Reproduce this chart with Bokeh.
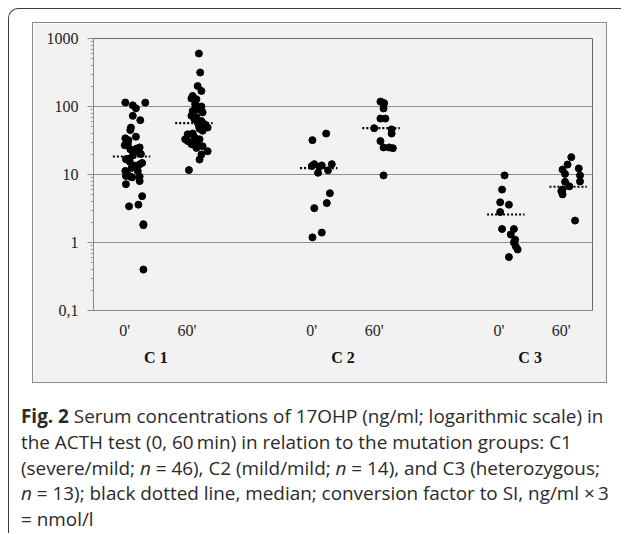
from bokeh.plotting import figure
from bokeh.models import Range1d, LinearAxis, FixedTicker, Div, ColumnDataSource
from bokeh.layouts import column
from bokeh.embed import file_html
from bokeh.resources import INLINE

# ---- data -------------------------------------------------------------
# Excel-like category slots (blank slots separate the mutation groups)
slots = ["0'", "60'", "", "0'", "60'", "", "0'", "60'"]
group_names = ["C 1", "C 2", "C 3"]
y_tick_values = [0.1, 1, 10, 100, 1000]
y_tick_labels = ["0,1", "1", "10", "100", "1000"]

# 17OHP values (ng/ml) and horizontal jitter (in category units)
c1_0 = [114.5, 114, 104, 94, 73, 63, 49, 45, 36, 34, 32, 30, 28, 27, 25, 24, 23.5,
        21.9, 20, 19, 17.1, 16.8, 15.5, 14.8, 14.1, 13.5, 12.5, 11.3, 11.3, 10.2,
        9.5, 9.3, 9.2, 9.1, 8.0, 7.2, 4.8, 3.6, 3.4, 1.86, 1.8, 0.40]
c1_0_jit = [0.01, 0.33, 0.13, 0.18, 0.13, 0.25, 0.10, 0.09, 0.18, 0.01, 0.06, 0.03, 0.05, 0.0, 0.24, 0.19, 0.09,
            0.17, 0.26, 0.13, 0.07, 0.02, 0.08, 0.28, 0.24, 0.16, 0.11, 0.01, 0.21, 0.04,
            0.02, 0.24, 0.10, 0.12, 0.24, 0.02, 0.28, 0.22, 0.07, 0.30, 0.30, 0.30]

c1_60 = [601, 316, 200, 169, 143, 131, 128, 108, 100, 91, 86, 82, 73, 70, 65, 61, 58, 55,
         52, 49, 47, 44, 40, 39, 35, 33, 33, 31, 28, 28, 27.7, 26, 24.6, 22, 19.7, 16.6, 11.6]
c1_60_jit = [0.19, 0.21, 0.17, 0.23, 0.09, 0.07, 0.15, 0.13, 0.23, 0.17, 0.09, 0.25, 0.07, 0.15, 0.12, 0.23, 0.17, 0.28,
             0.19, 0.33, 0.20, 0.25, 0.09, 0.01, 0.12, -0.03, 0.20, 0.01, 0.07, 0.17, 0.09, 0.25, 0.15, 0.33, 0.23, 0.20, 0.03]

c2_0 = [40, 32, 14.2, 14.2, 13.6, 13.3, 13.0, 11.5, 10.6, 5.3, 3.8, 3.2, 1.4, 1.19]
c2_0_jit = [0.23, 0.01, 0.04, 0.32, 0.16, 0.0, 0.12, 0.26, 0.10, 0.29, 0.24, 0.04, 0.16, 0.01]

c2_60 = [118, 115, 112, 93.6, 66.5, 66.5, 48, 46, 40, 31, 25, 25, 24.4, 9.7]
c2_60_jit = [0.10, 0.13, 0.16, 0.15, 0.10, 0.18, 0.0, 0.28, 0.28, 0.10, 0.15, 0.24, 0.30, 0.15]

c3_0 = [9.7, 6.0, 3.9, 3.6, 2.8, 1.58, 1.58, 1.31, 1.1, 1.0, 0.88, 0.79, 0.61]
c3_0_jit = [0.09, 0.05, 0.02, 0.16, 0.02, 0.05, 0.24, 0.19, 0.26, 0.24, 0.27, 0.30, 0.16]

c3_60 = [18, 14, 12.3, 11.8, 10.2, 9.7, 7.9, 7.8, 6.7, 6.0, 5.7, 5.1, 2.1]
c3_60_jit = [0.16, 0.10, 0.28, 0.02, 0.06, 0.30, 0.30, 0.06, 0.13, 0.02, 0.0, 0.02, 0.22]

medians = [18.4, 57, 12.4, 48, 2.58, 6.6]

caption_html = (
    "<b>Fig. 2</b> Serum concentrations of 17OHP (ng/ml; logarithmic scale) in<br>"
    "the ACTH test (0, 60&#8201;min) in relation to the mutation groups: C1<br>"
    "(severe/mild; <i>n</i> = 46), C2 (mild/mild; <i>n</i> = 14), and C3 (heterozygous;<br>"
    "<i>n</i> = 13); black dotted line, median; conversion factor to SI, ng/ml &#215;&#8201;3<br>"
    "= nmol/l"
)

# ---- derived positions -----------------------------------------------
slot_pos = [i + 0.5 for i, s in enumerate(slots) if s]
slot_lbl = [s for s in slots if s]
group_pos = [(slot_pos[2 * k] + slot_pos[2 * k + 1]) / 2 for k in range(len(group_names))]

series = [(c1_0, c1_0_jit), (c1_60, c1_60_jit), (c2_0, c2_0_jit),
          (c2_60, c2_60_jit), (c3_0, c3_0_jit), (c3_60, c3_60_jit)]
xs, ys = [], []
for pos, (vals, jit) in zip(slot_pos, series):
    xs += [pos + j for j in jit]
    ys += list(vals)
pts = ColumnDataSource(dict(x=xs, y=ys))
med = ColumnDataSource(dict(x0=[p - 0.19 for p in slot_pos],
                            x1=[p + 0.41 for p in slot_pos], y=medians))

# ---- figure ------------------------------------------------------------
SERIF = "Liberation Serif"
p = figure(width=573, height=359, x_range=Range1d(0, 8), y_range=Range1d(0.1, 1000),
           y_axis_type="log", output_backend="svg", toolbar_location=None,
           min_border_left=60, min_border_right=14, min_border_top=15, min_border_bottom=72,
           background_fill_color="#f2f2f2", border_fill_color="#f2f2f2",
           outline_line_color="#6a6a6a", margin=(14, 0, 0, 24))
p.styles = {"outline": "1px solid #8a8a8a"}

yt = FixedTicker(ticks=y_tick_values,
                 minor_ticks=[m * 10.0 ** e for e in range(-1, 3) for m in range(2, 10)])
p.yaxis.ticker = yt
p.ygrid.ticker = yt
p.yaxis.major_label_overrides = {v: l for v, l in zip(y_tick_values, y_tick_labels)}
p.yaxis.axis_line_color = "#8a8a8a"
p.yaxis.major_tick_line_color = "#8a8a8a"
p.yaxis.minor_tick_line_color = "#a0a0a0"
p.yaxis.major_tick_out = 6
p.yaxis.major_tick_in = 0
p.yaxis.minor_tick_out = 3
p.yaxis.minor_tick_in = 0
p.yaxis.major_label_standoff = 9
p.yaxis.major_label_text_font = SERIF
p.yaxis.major_label_text_font_size = "16px"
p.yaxis.major_label_text_color = "#222222"

p.xaxis.ticker = FixedTicker(ticks=slot_pos)
p.xaxis.major_label_overrides = {v: l for v, l in zip(slot_pos, slot_lbl)}
p.xaxis.axis_line_color = "#8a8a8a"
p.xaxis.major_tick_line_color = None
p.xaxis.minor_tick_line_color = None
p.xaxis.major_tick_out = 0
p.xaxis.major_tick_in = 0
p.xaxis.major_label_standoff = 11
p.xaxis.major_label_text_font = SERIF
p.xaxis.major_label_text_font_size = "16px"
p.xaxis.major_label_text_color = "#222222"

gaxis = LinearAxis(ticker=FixedTicker(ticks=group_pos),
                   major_label_overrides={v: l for v, l in zip(group_pos, group_names)})
gaxis.axis_line_color = None
gaxis.major_tick_line_color = None
gaxis.minor_tick_line_color = None
gaxis.major_tick_out = 0
gaxis.major_tick_in = 0
gaxis.major_label_standoff = 7
gaxis.major_label_text_font = SERIF
gaxis.major_label_text_font_size = "16px"
gaxis.major_label_text_font_style = "bold"
gaxis.major_label_text_color = "#111111"
p.add_layout(gaxis, "below")

p.xgrid.visible = False
p.ygrid.grid_line_color = "#8f8f8f"
p.ygrid.grid_line_width = 1

p.segment(x0="x0", y0="y", x1="x1", y1="y", source=med, line_color="black",
          line_width=2.2, line_dash="2 2")
p.scatter(x="x", y="y", source=pts, size=7, fill_color="black", line_color="black")

cap = Div(text=caption_html, width=600, height=129, margin=(22, 0, 0, 12),
          styles={"font-family": "'Open Sans'", "font-size": "18.9px",
                  "line-height": "25.8px", "color": "#2a2a2a", "white-space": "nowrap"})

page = column(p, cap, margin=(8, 0, 0, 8),
              styles={"border-top": "1.5px solid #3c3c3c", "border-left": "1.5px solid #3c3c3c",
                      "border-top-left-radius": "10px"})

open("out.html", "w").write(file_html(page, INLINE))
